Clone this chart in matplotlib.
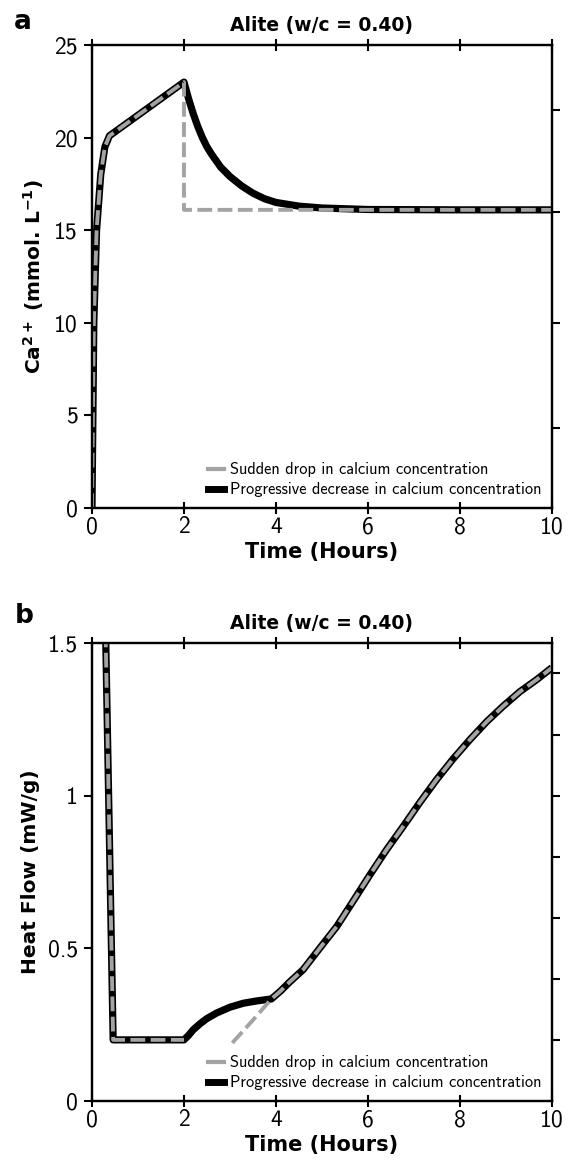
import matplotlib
matplotlib.use('Agg')
import matplotlib.pyplot as plt
from matplotlib.lines import Line2D
from matplotlib.ticker import FuncFormatter
import numpy as np

plt.rcParams['font.family'] = ['DejaVu Sans']
plt.rcParams['mathtext.fontset'] = 'custom'
plt.rcParams['mathtext.rm'] = 'DejaVu Sans:bold'
plt.rcParams['mathtext.it'] = 'DejaVu Sans:bold'
plt.rcParams['mathtext.bf'] = 'DejaVu Sans:bold'
plt.rcParams['axes.unicode_minus'] = False

# panel a: Ca2+ concentration (mmol/L) vs time (h)
time_a_common = [0, 0.02, 0.04, 0.1, 0.19, 0.28, 0.38, 2.0]
ca_common = [0, 5, 10, 15, 18, 19.5, 20.1, 23.0]
time_a_sudden = [2.0, 2.0, 10.0]
ca_sudden = [23.0, 16.1, 16.1]
time_a_prog = [2.0, 2.1, 2.2, 2.3, 2.4, 2.5, 2.6, 2.8, 3.0, 3.25, 3.5, 3.75,
               4.0, 4.5, 5.0, 6.0, 8.0, 10.0]
ca_prog = [23.0, 22.1, 21.3, 20.6, 20.0, 19.5, 19.1, 18.4, 17.9, 17.4, 17.0,
           16.7, 16.5, 16.3, 16.2, 16.12, 16.1, 16.1]
ca_right_ticks = [4.3, 10.0, 16.0, 21.5]

# panel b: heat flow (mW/g) vs time (h)
time_b_common = [0.26, 0.3, 0.46, 2.0]
hf_common = [1.6, 1.5, 0.2, 0.2]
time_b_prog = [2.0, 2.1, 2.2, 2.35, 2.5, 2.71, 3.0, 3.29, 3.6, 3.9]
hf_prog = [0.2, 0.215, 0.233, 0.253, 0.27, 0.288, 0.307, 0.32, 0.328, 0.334]
time_b_sudden = [3.05, 3.5, 3.9]
hf_sudden = [0.19, 0.265, 0.334]
time_b_late = [3.9, 4.1, 4.3, 4.59, 4.95, 5.32, 5.68, 6.04, 6.4, 6.77, 7.13,
               7.49, 7.85, 8.22, 8.58, 8.94, 9.3, 9.67, 10.0]
hf_late = [0.334, 0.36, 0.39, 0.43, 0.50, 0.571, 0.655, 0.74, 0.822, 0.90,
           0.978, 1.052, 1.12, 1.184, 1.242, 1.293, 1.34, 1.38, 1.419]
hf_right_ticks = [0.2, 0.4, 0.6, 0.8, 1.0, 1.2, 1.4]

labels = ['Sudden drop in calcium concentration',
          'Progressive decrease in calcium concentration']

GREY = '#a3a3a3'
TICKFONT = 'cmss10'


def style_axes(ax, ylim, yticks, right_ticks):
    ax.set_xlim(0, 10)
    ax.set_ylim(*ylim)
    ax.set_xticks([0, 2, 4, 6, 8, 10])
    ax.set_yticks(yticks)
    ax.yaxis.set_major_formatter(FuncFormatter(lambda v, p: '%g' % v))
    for s in ax.spines.values():
        s.set_linewidth(1.6)
    ax.tick_params(direction='inout', length=8, width=1.5, top=True,
                   labeltop=False, labelsize=17, labelfontfamily=TICKFONT,
                   pad=2)
    ax.tick_params(axis='y', direction='out', length=6, pad=4)
    # unlabeled ticks on the right spine
    ax2 = ax.twinx()
    ax2.set_ylim(*ylim)
    ax2.set_yticks(right_ticks)
    ax2.tick_params(direction='out', length=6, width=1.5, labelright=False)
    for s in ax2.spines.values():
        s.set_linewidth(1.6)
    return ax2


def add_legend(ax):
    handles = [Line2D([], [], color=GREY, lw=3),
               Line2D([], [], color='black', lw=5)]
    ax.legend(handles, labels, loc='lower right', frameon=False,
              prop={'family': TICKFONT, 'size': 11.8}, handlelength=1.0,
              handletextpad=0.35, labelspacing=0.3, borderaxespad=0.25)


fig = plt.figure(figsize=(5.71, 11.67), dpi=100)

# ---- panel a
ax = fig.add_axes([0.1611, 0.5647, 0.8056, 0.3967])
ta = time_a_common + time_a_prog[1:]
ya = ca_common + ca_prog[1:]
ax.plot(ta, ya, color='black', lw=5.2, solid_capstyle='butt', zorder=3)
ts = time_a_common + time_a_sudden[1:]
ys = ca_common + ca_sudden[1:]
ax.plot(ts, ys, color=GREY, lw=2.8, dashes=(3.8, 1.4), zorder=4)
style_axes(ax, (0, 25), [0, 5, 10, 15, 20, 25], ca_right_ticks)
ax.set_title('Alite (w/c = 0.40)', fontsize=13.5, fontweight='bold', pad=10)
ax.set_xlabel('Time (Hours)', fontsize=15, fontweight='bold', labelpad=3)
ax.set_ylabel(r'Ca$^{2+}$ (mmol. L$^{-1}$)', fontsize=14.5, fontweight='bold',
              labelpad=6)
add_legend(ax)
fig.text(0.025, 0.992, 'a', fontsize=19, fontweight='bold', va='top')

# ---- panel b
bx = fig.add_axes([0.1611, 0.0566, 0.8056, 0.3925])
tb = time_b_common + time_b_prog[1:] + time_b_late[1:]
yb = hf_common + hf_prog[1:] + hf_late[1:]
bx.plot(tb, yb, color='black', lw=5.2, solid_capstyle='butt', zorder=3)
tsb = time_b_common + [np.nan] + time_b_sudden + time_b_late[1:]
ysb = hf_common + [np.nan] + hf_sudden + hf_late[1:]
bx.plot(tsb, ysb, color=GREY, lw=2.8, dashes=(3.8, 1.4), zorder=4)
style_axes(bx, (0, 1.5), [0, 0.5, 1, 1.5], hf_right_ticks)
bx.set_title('Alite (w/c = 0.40)', fontsize=13.5, fontweight='bold', pad=10)
bx.set_xlabel('Time (Hours)', fontsize=15, fontweight='bold', labelpad=3)
bx.set_ylabel('Heat Flow (mW/g)', fontsize=14.5, fontweight='bold', labelpad=6)
add_legend(bx)
fig.text(0.025, 0.483, 'b', fontsize=19, fontweight='bold', va='top')

fig.savefig('out.png', dpi=100)
